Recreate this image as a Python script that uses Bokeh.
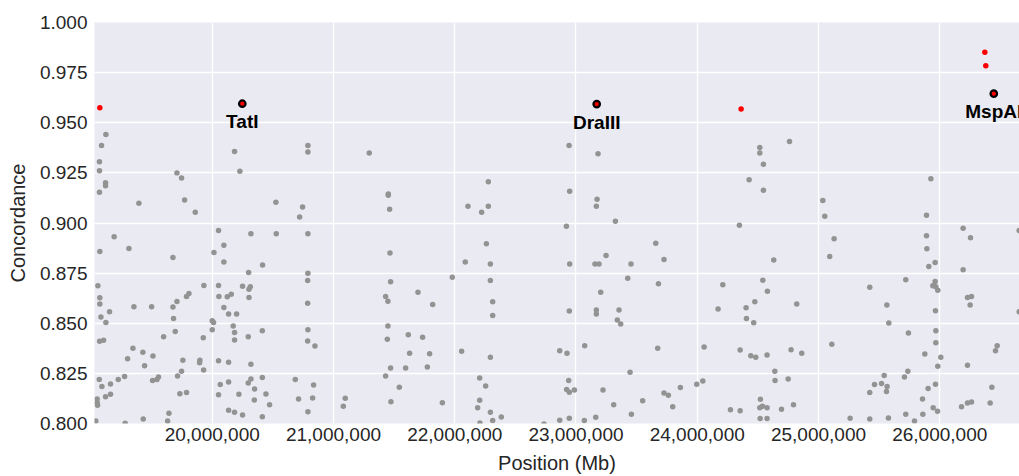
from bokeh.plotting import figure
from bokeh.models import Range1d, FixedTicker, NumeralTickFormatter, ColumnDataSource
from bokeh.core.properties import value
from bokeh.embed import file_html
from bokeh.resources import INLINE

FONT = "Liberation Sans"

# ---- tick labels ----
x_ticks = [20000000, 21000000, 22000000, 23000000, 24000000, 25000000, 26000000]
y_ticks = [0.800, 0.825, 0.850, 0.875, 0.900, 0.925, 0.950, 0.975, 1.000]

# ---- grey (background) sites : position (bp) / concordance, by region ----
pos_a = [19123000, 19087000, 19070000, 19070000, 19120000, 19120000, 19070000, 19395000,
         19709000, 19747000, 19772000, 19860000, 20184000, 20228000, 20789000, 20789000,
         20525000, 20745000, 20721000, 20052000, 20319000, 20528000, 20789000, 19191000,
         19073000, 19313000, 19676000, 20014000, 20096000, 20096000, 20415000]
conc_a = [0.9442, 0.9386, 0.9306, 0.9261, 0.9201, 0.9186, 0.9153, 0.9098,
          0.9250, 0.9225, 0.9115, 0.9054, 0.9356, 0.9258, 0.9387, 0.9354,
          0.9103, 0.9080, 0.9030, 0.8962, 0.8946, 0.8947, 0.8947, 0.8931,
          0.8858, 0.8873, 0.8828, 0.8853, 0.8889, 0.8806, 0.8791]

pos_b = [19057000, 19073000, 19073000, 19082000, 19123000, 19153000, 19354000, 19500000,
         19676000, 19681000, 19709000, 19695000, 19788000, 19808000, 19931000, 20052000,
         20055000, 20096000, 20124000, 20157000, 20135000, 20201000, 20250000, 20303000,
         20314000, 20300000, 20303000, 20000000, 20011000, 20000000, 20173000, 20184000,
         20184000, 19926000, 19599000, 20413000, 20297000, 20789000, 20787000, 20787000,
         20789000, 20787000, 20847000,
         19071000, 19104000, 19346000, 19302000, 19428000, 19442000, 19511000, 19898000,
         19896000, 19758000, 19747000, 20052000, 20135000, 19929000, 20319000]
conc_b = [0.8687, 0.8627, 0.8596, 0.8531, 0.8504, 0.8557, 0.8582, 0.8582,
          0.8581, 0.8524, 0.8609, 0.8459, 0.8634, 0.8649, 0.8688, 0.8688,
          0.8634, 0.8579, 0.8632, 0.8645, 0.8546, 0.8546, 0.8685, 0.8670,
          0.8682, 0.8753, 0.8629, 0.8513, 0.8504, 0.8468, 0.8486, 0.8454,
          0.8416, 0.8428, 0.8433, 0.8463, 0.8433, 0.8750, 0.8713, 0.8600,
          0.8468, 0.8411, 0.8386,
          0.8410, 0.8415, 0.8375, 0.8323, 0.8355, 0.8288, 0.8337, 0.8315,
          0.8303, 0.8315, 0.8260, 0.8313, 0.8305, 0.8267, 0.8295]

pos_c = [19068000, 19090000, 19120000, 19161000, 19161000, 19225000, 19277000, 19508000,
         19544000, 19557000, 19714000, 19733000, 19788000, 20066000, 20052000, 20135000,
         20220000, 20297000, 20319000, 20349000, 20347000, 20413000, 20443000, 20473000,
         20685000, 20712000, 20828000, 20836000,
         19051000, 19051000, 19054000, 19040000, 19282000, 19431000, 19632000, 19643000,
         20135000, 20184000, 20250000, 20413000, 20789000]
conc_c = [0.8220, 0.8184, 0.8134, 0.8197, 0.8146, 0.8220, 0.8235, 0.8214,
          0.8219, 0.8232, 0.8237, 0.8149, 0.8154, 0.8194, 0.8144, 0.8207,
          0.8146, 0.8202, 0.8222, 0.8172, 0.8117, 0.8230, 0.8147, 0.8093,
          0.8220, 0.8122, 0.8127, 0.8192,
          0.8122, 0.8103, 0.8091, 0.8013, 0.8001, 0.8023, 0.8013, 0.8051,
          0.8066, 0.8056, 0.8043, 0.8034, 0.8058]

pos_d = [21295000, 21452000, 21452000, 21463000, 22277000, 22109000, 22222000, 22277000,
         22943000, 23182000, 22948000, 23174000, 23168000, 23325000, 22921000,
         21466000, 22261000, 22087000, 22294000, 21980000, 22294000, 21471000, 21697000,
         21430000, 21449000, 21818000, 22313000, 22313000, 21449000, 21444000, 21617000,
         21735000, 21628000, 21793000, 22057000, 22294000, 21471000, 21595000, 21774000,
         21430000, 21543000, 21474000, 21898000, 22206000, 22255000, 22206000, 22189000,
         22294000, 22313000, 22208000, 22384000, 21097000, 21081000]
conc_d = [0.9349, 0.9145, 0.9138, 0.9069, 0.9206, 0.9084, 0.9054, 0.9083,
          0.9387, 0.9346, 0.9158, 0.9118, 0.9084, 0.9009, 0.8984,
          0.8850, 0.8896, 0.8805, 0.8795, 0.8730, 0.8713, 0.8707, 0.8655,
          0.8634, 0.8610, 0.8594, 0.8607, 0.8539, 0.8486, 0.8420, 0.8443,
          0.8430, 0.8350, 0.8348, 0.8360, 0.8330, 0.8277, 0.8277, 0.8282,
          0.8237, 0.8181, 0.8109, 0.8104, 0.8227, 0.8187, 0.8116, 0.8078,
          0.8056, 0.8015, 0.8003, 0.8033, 0.8126, 0.8086]

pos_e = [22948000, 23157000, 23190000, 23248000, 23454000, 23658000, 23726000, 23427000,
         23680000, 23204000, 22945000, 23168000, 23168000, 23355000, 23341000, 23369000,
         22866000, 22926000, 23072000, 23674000, 23446000, 22940000, 22923000, 22945000,
         22987000, 23223000, 23726000, 23762000, 23798000, 23861000, 23311000, 23550000,
         23457000, 23163000, 23069000, 22945000, 22866000, 22736000]
conc_e = [0.8795, 0.8795, 0.8795, 0.8838, 0.8796, 0.8899, 0.8818, 0.8725,
          0.8697, 0.8655, 0.8561, 0.8566, 0.8546, 0.8566, 0.8516, 0.8496,
          0.8363, 0.8350, 0.8388, 0.8375, 0.8255, 0.8215, 0.8169, 0.8156,
          0.8167, 0.8167, 0.8152, 0.8141, 0.8084, 0.8179, 0.8093, 0.8114,
          0.8046, 0.8031, 0.8015, 0.8026, 0.8016, 0.7998]

pos_f = [24516000, 24516000, 24546000, 24428000, 24546000, 24761000, 24348000, 25036000,
         25052000, 25129000, 25927000, 25891000, 25891000, 26193000, 26254000, 26655000,
         24631000, 25093000, 25894000, 25910000, 25962000, 26193000, 24211000, 24541000,
         24579000, 24172000, 24403000, 24475000, 24406000, 24466000, 24821000, 25423000,
         25720000, 25962000, 25943000, 25968000, 25984000, 25564000, 25580000, 25965000,
         26229000, 26262000, 26251000, 26655000]
conc_f = [0.9376, 0.9349, 0.9293, 0.9216, 0.9163, 0.9406, 0.8989, 0.9112,
          0.9034, 0.8921, 0.9221, 0.9039, 0.8936, 0.8974, 0.8927, 0.8962,
          0.8815, 0.8833, 0.8871, 0.8783, 0.8803, 0.8767, 0.8692, 0.8715,
          0.8659, 0.8571, 0.8577, 0.8607, 0.8524, 0.8503, 0.8596, 0.8680,
          0.8717, 0.8708, 0.8687, 0.8682, 0.8664, 0.8591, 0.8501, 0.8562,
          0.8629, 0.8634, 0.8591, 0.8557]

pos_g = [24057000, 24354000, 24442000, 24483000, 24576000, 24774000, 24862000, 25110000,
         25742000, 25968000, 25968000, 25877000, 26009000, 25984000, 26229000, 26460000,
         26474000, 24640000, 24642000, 24750000, 24046000, 23996000, 25542000, 25462000,
         25520000, 25566000, 25561000, 25423000, 25709000, 25737000, 25965000, 25904000,
         25858000, 25946000, 25982000, 26430000, 26229000, 26262000, 26180000, 26416000,
         24274000, 24354000, 24521000, 24538000, 24516000, 24576000, 24695000, 24794000,
         24519000, 24576000, 25261000, 25423000, 25577000, 25720000, 25792000, 25861000]
conc_g = [0.8381, 0.8366, 0.8338, 0.8330, 0.8342, 0.8368, 0.8350, 0.8395,
          0.8451, 0.8463, 0.8403, 0.8347, 0.8330, 0.8285, 0.8290, 0.8363,
          0.8388, 0.8260, 0.8214, 0.8222, 0.8212, 0.8196, 0.8239, 0.8194,
          0.8200, 0.8184, 0.8159, 0.8154, 0.8232, 0.8260, 0.8196, 0.8174,
          0.8122, 0.8078, 0.8061, 0.8181, 0.8102, 0.8107, 0.8084, 0.8102,
          0.8068, 0.8063, 0.8121, 0.8086, 0.8079, 0.8078, 0.8071, 0.8094,
          0.8025, 0.8025, 0.8026, 0.8023, 0.8028, 0.8046, 0.8013, 0.8046]

# ---- red (high concordance) sites ----
red_pos = [19073000, 24362000, 26372000, 26380000]
red_conc = [0.9575, 0.9568, 0.9852, 0.9784]

# ---- highlighted enzyme sites ----
hl_pos = [20248000, 23171000, 26446000]
hl_conc = [0.9595, 0.9593, 0.9645]
hl_names = ["TatI", "DraIII", "MspAI"]

grey_pos = pos_a + pos_b + pos_c + pos_d + pos_e + pos_f + pos_g
grey_conc = conc_a + conc_b + conc_c + conc_d + conc_e + conc_f + conc_g
assert len(grey_pos) == len(grey_conc)

p = figure(width=1019, height=476, output_backend="svg", toolbar_location=None,
           x_range=Range1d(19029000, 26658000), y_range=Range1d(0.8, 1.0),
           min_border_left=94, min_border_right=0, min_border_top=22, min_border_bottom=52,
           background_fill_color="#EAEAF2", border_fill_color="white")
p.outline_line_color = None

for g in (p.xgrid, p.ygrid):
    g.grid_line_color = "white"
    g.grid_line_width = 1.3

p.xaxis.ticker = FixedTicker(ticks=x_ticks)
p.yaxis.ticker = FixedTicker(ticks=y_ticks)
p.xaxis.formatter = NumeralTickFormatter(format="0,0")
p.yaxis.formatter = NumeralTickFormatter(format="0.000")
p.xaxis.axis_label = "Position (Mb)"
p.yaxis.axis_label = "Concordance"
for ax in (p.xaxis, p.yaxis):
    ax.axis_line_color = None
    ax.major_tick_line_color = None
    ax.minor_tick_line_color = None
    ax.major_tick_out = 0
    ax.major_tick_in = 0
    ax.major_label_text_font = FONT
    ax.major_label_text_font_size = "19px"
    ax.major_label_text_color = "#262626"
    ax.axis_label_text_font = FONT
    ax.axis_label_text_font_size = "20px"
    ax.axis_label_text_font_style = "normal"
    ax.axis_label_text_color = "#262626"
p.xaxis.major_label_standoff = 4
p.xaxis.axis_label_standoff = 8
p.yaxis.major_label_standoff = 7
p.yaxis.axis_label_standoff = 8

p.scatter(grey_pos, grey_conc, size=5.5, fill_color="#939393", line_color=None)
p.scatter(red_pos, red_conc, size=5.5, fill_color="#ff0000", line_color=None)
p.scatter(hl_pos, hl_conc, size=6.5, fill_color="#ff0000", line_color="black", line_width=2.2)

src = ColumnDataSource(dict(x=hl_pos, y=hl_conc, name=hl_names))
p.text(x="x", y="y", text="name", source=src, text_font=value(FONT), text_font_style="bold",
       text_font_size="19px", text_align="center", text_baseline="middle", y_offset=18,
       text_color="black")

open("out.html", "w").write(file_html(p, INLINE))
